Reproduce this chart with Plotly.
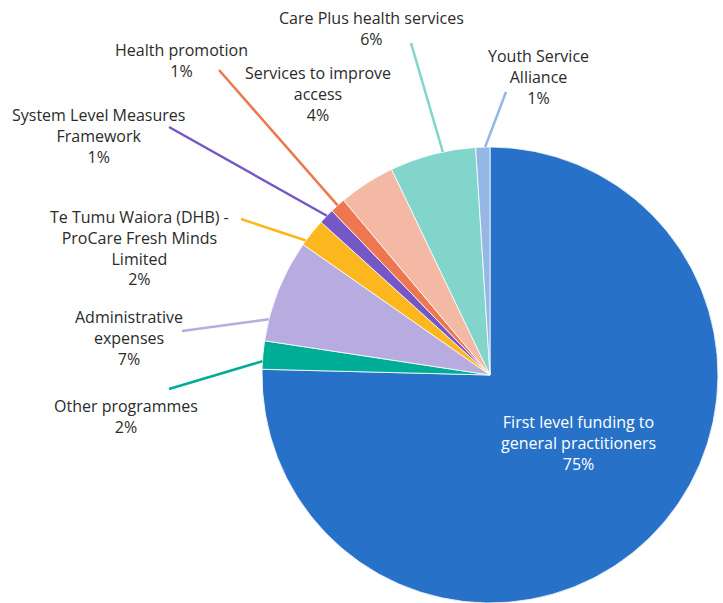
import math
import plotly.graph_objects as go

# Spending breakdown (share of total, %), in drawing order clockwise from 12 o'clock
categories = [
    "First level funding to general practitioners",
    "Other programmes",
    "Administrative expenses",
    "Te Tumu Waiora (DHB) - ProCare Fresh Minds Limited",
    "System Level Measures Framework",
    "Health promotion",
    "Services to improve access",
    "Care Plus health services",
    "Youth Service Alliance",
]
shares = [75.4, 2.0, 7.3, 2.0, 1.1, 1.1, 4.0, 6.1, 1.0]

# Label text as wrapped for display
label_lines = [
    ["First level funding to", "general practitioners"],
    ["Other programmes"],
    ["Administrative", "expenses"],
    ["Te Tumu Waiora (DHB) -", "ProCare Fresh Minds", "Limited"],
    ["System Level Measures", "Framework"],
    ["Health promotion"],
    ["Services to improve", "access"],
    ["Care Plus health services"],
    ["Youth Service", "Alliance"],
]

colors = ["#2871C8", "#00AE97", "#B8ABDF", "#FDB71E", "#7558C5",
          "#EE7650", "#F4B9A5", "#82D5CA", "#94B7E6"]

W, H = 723, 603
CX, CY, R = 490, 375, 228  # pie centre / radius in pixels

# Label placement: text centre (px), leader anchor near the text (px) or None,
# and where along its slice the leader meets the rim (0..1)
label_layout = [
    dict(pos=(578, 443), leader=None, frac=0.5, inside=True),
    dict(pos=(126, 416), leader=(169, 389), frac=0.28),
    dict(pos=(129, 338), leader=(182, 331), frac=0.21),
    dict(pos=(139, 248), leader=(241, 219), frac=0.17),
    dict(pos=(98, 136), leader=(169, 127), frac=0.55),
    dict(pos=(181, 61), leader=(219, 70), frac=0.5),
    dict(pos=(318, 94), leader=None, frac=0.5),
    dict(pos=(372, 28), leader=(411, 43), frac=0.62),
    dict(pos=(538, 77), leader=(506, 92), frac=0.66),
]

FONT = "Open Sans"
TEXT_COLOR = "#2b2b2b"


def px_to_paper(x, y):
    return x / W, 1 - y / H


fig = go.Figure()
fig.add_trace(go.Pie(
    labels=categories,
    values=shares,
    sort=False,
    direction="clockwise",
    rotation=0,
    marker=dict(colors=colors, line=dict(color="white", width=0.8)),
    textinfo="none",
    hoverinfo="label+percent",
    showlegend=False,
    domain=dict(x=[(CX - R) / W, (CX + R) / W], y=[(H - CY - R) / H, (H - CY + R) / H]),
))

total = sum(shares)
shapes = []
annotations = []
cum = 0.0
for name, v, lines, col, lay in zip(categories, shares, label_lines, colors, label_layout):
    start = cum / total
    cum += v
    end = cum / total
    pct = f"{round(100 * v / total)}%"
    text = "<br>".join(lines + [pct])

    if lay["leader"] is not None:
        theta = 2 * math.pi * (start + (end - start) * lay["frac"])
        rx = CX + R * math.sin(theta)
        ry = CY - R * math.cos(theta)
        x0, y0 = px_to_paper(*lay["leader"])
        x1, y1 = px_to_paper(rx, ry)
        shapes.append(dict(type="line", xref="paper", yref="paper",
                           x0=x0, y0=y0, x1=x1, y1=y1,
                           line=dict(color=col, width=2.5)))

    tx, ty = px_to_paper(*lay["pos"])
    annotations.append(dict(
        x=tx, y=ty, xref="paper", yref="paper",
        text=text, showarrow=False, xanchor="center", yanchor="middle",
        align="center",
        font=dict(family=FONT, size=16,
                  color="white" if lay.get("inside") else TEXT_COLOR),
    ))

fig.update_layout(
    width=W, height=H,
    margin=dict(l=0, r=0, t=0, b=0),
    paper_bgcolor="white",
    plot_bgcolor="white",
    shapes=shapes,
    annotations=annotations,
)

fig.write_html("out.html")
